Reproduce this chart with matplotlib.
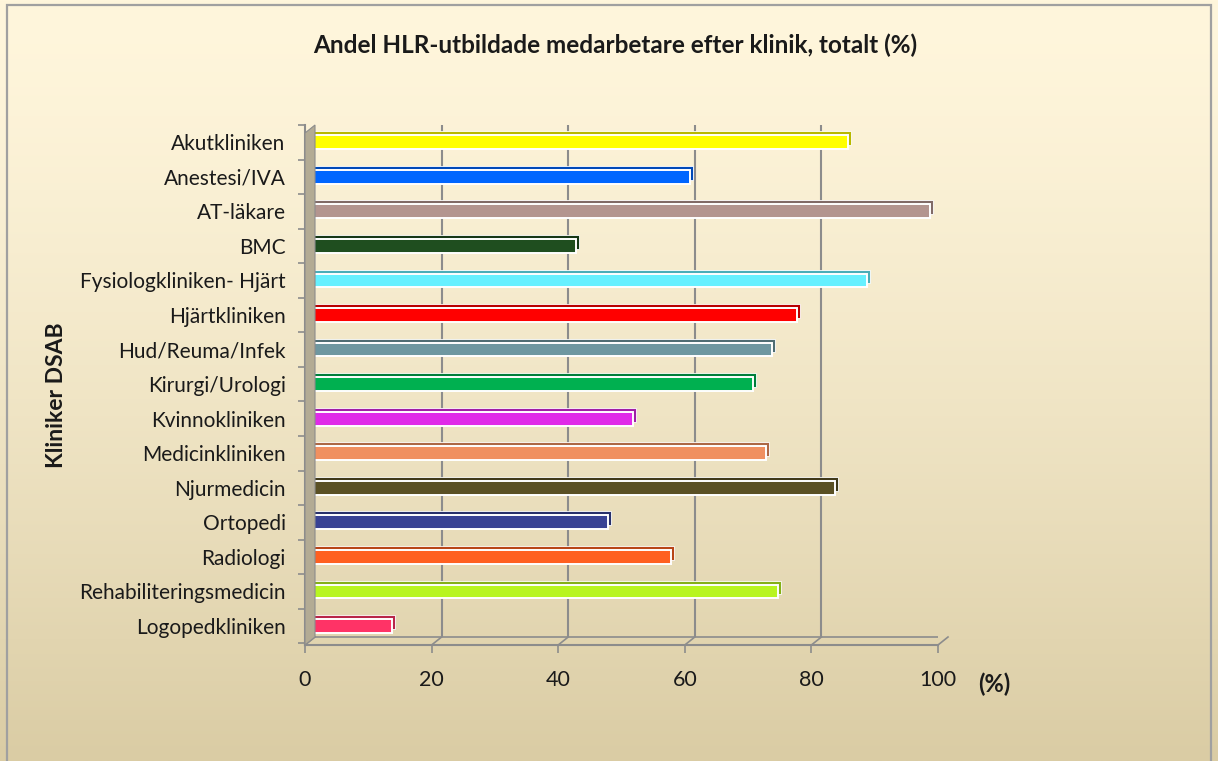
import numpy as np
import matplotlib
matplotlib.use('Agg')
import matplotlib.pyplot as plt
import matplotlib.transforms as mtransforms
from matplotlib.colors import to_rgb
from matplotlib.patches import Rectangle, Polygon
from matplotlib.lines import Line2D

plt.rcParams['font.family'] = ['Lato', 'DejaVu Sans']

# Data
kliniker = ['Akutkliniken', 'Anestesi/IVA', 'AT-läkare', 'BMC', 'Fysiologkliniken- Hjärt',
            'Hjärtkliniken', 'Hud/Reuma/Infek', 'Kirurgi/Urologi', 'Kvinnokliniken',
            'Medicinkliniken', 'Njurmedicin', 'Ortopedi', 'Radiologi',
            'Rehabiliteringsmedicin', 'Logopedkliniken']
andel = [85, 60, 98, 42, 88, 77, 73, 70, 51, 72, 83, 47, 57, 74, 13]
farger = ['#FFFF00', '#0066FF', '#B3958F', '#1F4E1F', '#66F0FF', '#FF0000', '#6E97A0',
          '#00B050', '#E02AE8', '#F09060', '#5A5024', '#384294', '#FF6020', '#B8F520',
          '#FF3366']
xticks = [0, 20, 40, 60, 80, 100]

W, H = 1218, 761
fig = plt.figure(figsize=(W / 100, H / 100), dpi=100)

# Background gradient
bg = fig.add_axes([0, 0, 1, 1], zorder=-10)
top = np.array(to_rgb('#FFF6DC'))
bot = np.array(to_rgb('#DACCA4'))
t = np.linspace(0, 1, 256)[:, None] ** 1.4
grad = (1 - t) * top + t * bot
bg.imshow(grad[:, None, :].repeat(2, axis=1), aspect='auto', extent=[0, 1, 0, 1])
bg.set_xlim(0, 1)
bg.set_ylim(0, 1)
bg.axis('off')
bg.add_patch(Rectangle((7 / W, -0.05), (1211 - 7) / W, 1.05 - 5 / H, fill=False,
                       edgecolor='#A0A0A0', lw=1.6, transform=bg.transAxes))

# Plot area (front plane)
ax = fig.add_axes([305 / W, 1 - 645 / H, 633 / W, 520 / H])
ax.patch.set_alpha(0)
ylo, yhi = 14.55, -0.46
ax.set_xlim(0, 100)
ax.set_ylim(ylo, yhi)

dx, dy = 10, 8  # depth offset in pixels
back = ax.transData + mtransforms.ScaledTranslation(dx / 100, dy / 100, fig.dpi_scale_trans)
gridc = '#8C8C8C'

# back wall gridlines
for v in xticks[1:]:
    ax.plot([v, v], [ylo, yhi], color=gridc, lw=1.5, transform=back, zorder=1,
            solid_capstyle='butt')
ax.plot([0, 100], [ylo, ylo], color=gridc, lw=1.2, transform=back, zorder=1)

# floor diagonals and left wall, via the axes transform
fig.canvas.draw()
for v in xticks:
    x0, y0 = ax.transData.transform((v, ylo))
    fig.add_artist(Line2D([x0, x0 + dx], [y0, y0 + dy], color=gridc, lw=1.2,
                          transform=None, zorder=2))
xa, ya = ax.transData.transform((0, ylo))
xb, yb = ax.transData.transform((0, yhi))
wall = Polygon([[xa, ya], [xa + dx, ya + dy], [xb + dx, yb], [xb, yb - dy]],
               closed=True, facecolor='#B3AB94', edgecolor='#8C8C8C', lw=0.8,
               transform=None, zorder=2)
fig.add_artist(wall)

# bars: extrusion + front face
ypos = np.arange(len(kliniker))
mid = ax.transData + mtransforms.ScaledTranslation(5 / 100, 0, fig.dpi_scale_trans)
ext = ax.transData + mtransforms.ScaledTranslation(8 / 100, 4 / 100, fig.dpi_scale_trans)
dark = [tuple(np.array(to_rgb(c)) * 0.72) for c in farger]
ax.barh(ypos, andel, height=0.40, color=dark, edgecolor='white', lw=0.6,
        transform=ext, zorder=3)
ax.barh(ypos, andel, height=0.40, color=farger, edgecolor='white', lw=1.4,
        transform=mid, zorder=4)

# axes styling
for s in ['top', 'right']:
    ax.spines[s].set_visible(False)
for s in ['left', 'bottom']:
    ax.spines[s].set_color(gridc)
    ax.spines[s].set_linewidth(1.5)
ax.spines['left'].set_zorder(5)
ax.set_xticks(xticks)
ax.tick_params(axis='x', length=6, width=1.2, color=gridc, pad=12,
               labelsize=15.5, labelcolor='#1A1A1A')
ax.set_yticks(np.arange(-0.5, len(kliniker), 1), minor=False)
ax.set_yticklabels([])
ax.set_yticks(ypos, minor=True)
ax.set_yticklabels(kliniker, minor=True)
ax.tick_params(axis='y', which='major', length=5, width=1.2, color=gridc)
ax.tick_params(axis='y', which='minor', length=0, pad=14, labelsize=15,
               labelcolor='#1A1A1A')

fig.text(615 / W, 1 - 45 / H, 'Andel HLR-utbildade medarbetare efter klinik, totalt (%)',
         ha='center', va='center', fontsize=17.5, fontweight='bold', color='#1A1A1A')
fig.text(57 / W, 1 - 395 / H, 'Kliniker DSAB', rotation=90, ha='center', va='center',
         fontsize=16.5, fontweight='bold', color='#1A1A1A')
fig.text(994 / W, 1 - 684 / H, '(%)', ha='center', va='center',
         fontsize=17, fontweight='bold', color='#1A1A1A')

fig.savefig('out.png', dpi=100)
